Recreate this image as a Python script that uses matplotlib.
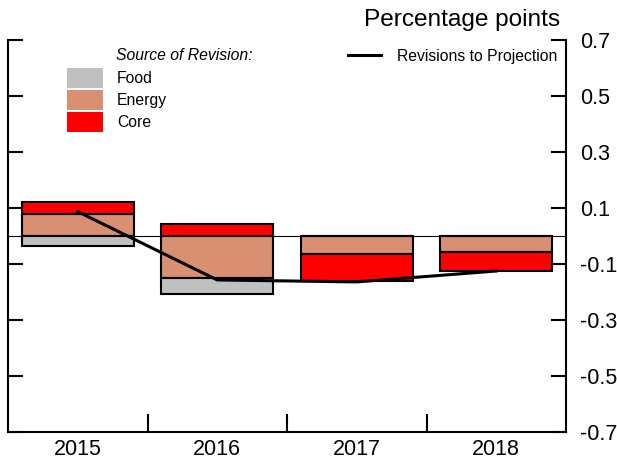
import matplotlib.pyplot as plt
import numpy as np
from matplotlib.patches import Patch
from matplotlib.lines import Line2D

plt.rcParams['font.family'] = ['Liberation Sans', 'DejaVu Sans']

years = ['2015', '2016', '2017', '2018']
food = [-0.036, -0.056, 0.0, 0.0]
energy = [0.078, -0.150, -0.063, -0.058]
core = [0.043, 0.044, -0.098, -0.068]
revisions = [0.087, -0.157, -0.164, -0.125]

colors = {'Food': '#C0C0C0', 'Energy': '#D99072', 'Core': '#FF0000'}

fig = plt.figure(figsize=(6.17, 4.62), dpi=100)
ax = fig.add_axes([8/617, 30/462, 558/617, 392/462])

x = np.arange(len(years))
pos_base = np.zeros(len(years))
neg_base = np.zeros(len(years))
# energy stacked first, then core and food on top (or below for negatives)
for name, vals in [('Energy', energy), ('Core', core), ('Food', food)]:
    vals = np.array(vals)
    bottoms = np.where(vals >= 0, pos_base, neg_base)
    ax.bar(x, vals, width=0.8, bottom=bottoms, color=colors[name],
           edgecolor='black', linewidth=1.5, zorder=2)
    pos_base = pos_base + np.where(vals > 0, vals, 0)
    neg_base = neg_base + np.where(vals < 0, vals, 0)

ax.axhline(0, color='black', linewidth=0.8, zorder=1)
ax.plot(x, revisions, color='black', linewidth=2.2, zorder=3)

ax.set_xlim(-0.5, 3.5)
ax.set_ylim(-0.7, 0.7)
ax.set_yticks([-0.7, -0.5, -0.3, -0.1, 0.1, 0.3, 0.5, 0.7])
ax.set_yticklabels(['-0.7', '-0.5', '-0.3', '-0.1', '0.1', '0.3', '0.5', '0.7'])
ax.tick_params(axis='y', direction='in', length=11, width=1.5,
               left=True, right=True, labelleft=False, labelright=True,
               labelsize=15.5, pad=10)
ax.set_xticks(x)
ax.set_xticklabels(years)
ax.set_xticks([0.5, 1.5, 2.5], minor=True)
ax.tick_params(axis='x', which='major', length=0, labelsize=15.5, pad=5)
ax.tick_params(axis='x', which='minor', direction='in', length=13, width=1.5)
ax.spines['top'].set_visible(False)
for s in ['left', 'right', 'bottom']:
    ax.spines[s].set_linewidth(1.5)

fig.text(560/617, 1 - 20/462, 'Percentage points', ha='right', va='center', fontsize=17.6)

# legend for components
fig.text(116/617, 1 - 56/462, 'Source of Revision:', fontstyle='italic',
         ha='left', va='center', fontsize=11.3)
handles = [Patch(facecolor=colors[n], edgecolor='none') for n in ['Food', 'Energy', 'Core']]
leg1 = ax.legend(handles, ['Food', 'Energy', 'Core'], loc='upper left',
                 bbox_to_anchor=(67/617, 1 - 68/462), bbox_transform=fig.transFigure,
                 frameon=False, fontsize=11.3, handlelength=2.29, handleheight=1.55,
                 labelspacing=0.15, handletextpad=0.9, borderpad=0, borderaxespad=0)
ax.add_artist(leg1)
ax.legend([Line2D([0], [0], color='black', linewidth=2.2)], ['Revisions to Projection'],
          loc='center left', bbox_to_anchor=(348/617, 1 - 56/462),
          bbox_transform=fig.transFigure, frameon=False, fontsize=11.3,
          handlelength=2.1, handletextpad=1.0, borderpad=0, borderaxespad=0)

fig.savefig('out.png', dpi=100)
